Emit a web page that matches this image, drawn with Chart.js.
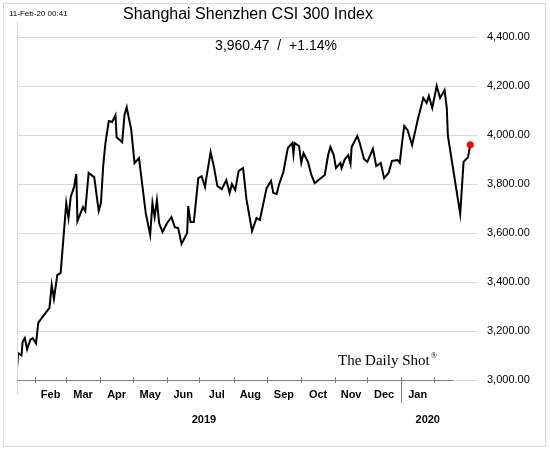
<!doctype html>
<html>
<head>
<style>
  body { margin: 0; background: #fff; }
  #wrap { width: 550px; height: 451px; position: relative; }
</style>
<script src="https://cdn.jsdelivr.net/npm/chart.js@4.4.0/dist/chart.umd.min.js"></script>
</head>
<body>
<div id="wrap"><canvas id="c" width="550" height="451"></canvas></div>
<script>
"use strict";
// x is position along the date axis in days, y is index level
const days = [0,1,4,5,7,9,12,14,17,19,22,29,31,33,36,39,44,46,48,51,53,54,59,61,64,69,73,75,77,79,82,85,88,89,94,96,98,99,102,105,109,115,119,121,123,125,127,130,134,138,141,144,147,152,153,155,158,162,165,168,169,173,176,179,183,187,190,192,195,198,202,205,210,214,217,223,227,229,232,234,238,242,246,247,248,252,254,256,260,263,266,275,278,280,283,285,289,290,293,296,298,299,304,306,310,313,318,321,325,328,332,335,340,342,344,346,349,353,356,358,363,366,368,371,375,378,382,384,385,396,399,403,405];
const levels = [3045,3110,3100,3155,3171,3126,3165,3171,3150,3233,3253,3294,3388,3331,3428,3437,3722,3661,3747,3788,3841,3649,3706,3690,3845,3828,3690,3722,3873,3967,4057,4053,4081,3991,3971,4081,4114,4090,4024,3885,3906,3682,3592,3722,3665,3734,3640,3604,3640,3665,3624,3620,3555,3600,3710,3645,3645,3824,3832,3788,3820,3930,3869,3792,3779,3816,3763,3800,3775,3853,3865,3738,3608,3661,3653,3783,3812,3763,3759,3796,3849,3947,3967,3922,3967,3955,3886,3926,3890,3837,3804,3837,3918,3951,3918,3865,3886,3865,3902,3918,3882,3951,3996,3971,3902,3890,3943,3873,3886,3824,3845,3894,3898,3886,3967,4037,4020,3959,4020,4061,4151,4131,4159,4110,4200,4151,4183,4110,3996,3678,3890,3910,3960];
const monthTicks = [16,44,74,104,134,163,194,223,254,284,313,343,373];
const monthNames = ["Feb","Mar","Apr","May","Jun","Jul","Aug","Sep","Oct","Nov","Dec","Jan"];
const yearLabels = ["2019","2020"];
const yearPos = [167,367];
const yearSplit = 343;
const yTicks = [3000,3200,3400,3600,3800,4000,4200,4400];

const points = days.map((d, i) => ({x: d, y: levels[i]}));
const last = points.length - 1;

const decor = {
  id: "decor",
  afterDraw(chart) {
    const ctx = chart.ctx, x = chart.scales.x, a = chart.chartArea;
    const base = a.bottom;
    ctx.save();
    // frame
    ctx.strokeStyle = "#d9d9d9"; ctx.lineWidth = 1;
    ctx.strokeRect(3.5, 3.5, 542, 443);
    ctx.beginPath(); ctx.moveTo(17.5, 22); ctx.lineTo(17.5, 395); ctx.stroke();
    // axis line + ticks
    ctx.strokeStyle = "#808080";
    ctx.beginPath(); ctx.moveTo(a.left, base + 0.5); ctx.lineTo(x.getPixelForValue(390), base + 0.5); ctx.stroke();
    monthTicks.forEach(t => {
      const px = Math.round(x.getPixelForValue(t)) + 0.5;
      ctx.beginPath();
      ctx.moveTo(px, base - 3);
      ctx.lineTo(px, t === yearSplit ? base + 23 : base + 3);
      ctx.stroke();
    });
    ctx.fillStyle = "#000";
    ctx.font = "bold 11px 'Liberation Sans', sans-serif";
    ctx.textAlign = "center"; ctx.textBaseline = "middle";
    monthNames.forEach((m, i) => {
      const px = (x.getPixelForValue(monthTicks[i]) + x.getPixelForValue(monthTicks[i + 1])) / 2;
      ctx.fillText(m, px, base + 15);
    });
    yearLabels.forEach((y, i) => ctx.fillText(y, x.getPixelForValue(yearPos[i]), base + 40));
    // titles
    ctx.font = "16px 'Liberation Sans', sans-serif";
    ctx.fillText("Shanghai Shenzhen CSI 300 Index", 248, 15);
    ctx.font = "14px 'Liberation Sans', sans-serif";
    ctx.fillText("3,960.47  /  +1.14%", 276, 46);
    ctx.font = "8px 'Liberation Sans', sans-serif";
    ctx.textAlign = "left";
    ctx.fillText("11-Feb-20 00:41", 9, 14);
    ctx.font = "15px 'Liberation Serif', serif";
    ctx.fillText("The Daily Shot", 338, 361);
    const w = ctx.measureText("The Daily Shot").width;
    ctx.font = "8px 'Liberation Serif', serif";
    ctx.fillText("®", 338 + w + 1, 356);
    ctx.restore();
  }
};

new Chart(document.getElementById("c"), {
  type: "line",
  data: {
    datasets: [{
      data: points,
      borderColor: "#000",
      borderWidth: 2,
      tension: 0,
      pointRadius: points.map((p, i) => i === last ? 3.5 : 0),
      pointBackgroundColor: "#ff0000",
      pointBorderWidth: 0
    }]
  },
  options: {
    responsive: false,
    animation: false,
    layout: { padding: { left: 17, top: 37, right: 0, bottom: 0 } },
    plugins: { legend: { display: false }, tooltip: { enabled: false } },
    scales: {
      x: {
        type: "linear", min: 0, max: 411,
        grid: { display: false }, border: { display: false },
        ticks: { display: false },
        afterFit(s) { s.height = 71; }
      },
      y: {
        position: "right", min: 3000, max: 4400,
        afterBuildTicks(s) { s.ticks = yTicks.map(v => ({value: v})); },
        afterFit(s) { s.width = 73; },
        border: { display: false },
        grid: { color: "#d9d9d9", drawTicks: false },
        ticks: {
          padding: 10, color: "#000",
          font: { family: "'Liberation Sans', sans-serif", size: 11 },
          callback: v => v.toLocaleString("en-US", {minimumFractionDigits: 2})
        }
      }
    }
  },
  plugins: [decor]
});
</script>
</body>
</html>
